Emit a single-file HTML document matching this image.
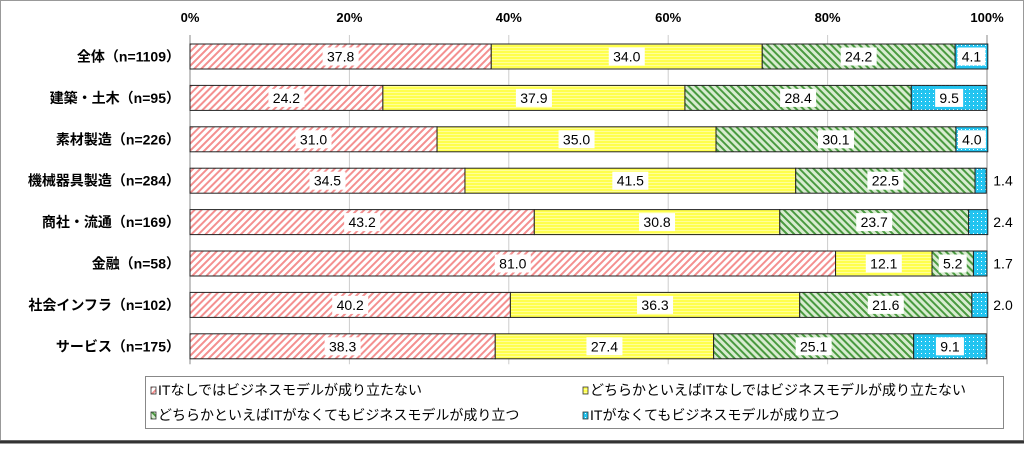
<!DOCTYPE html>
<html><head><meta charset="utf-8"><style>
html,body{margin:0;padding:0;background:#fff;}
svg{display:block;font-family:"Liberation Sans","Noto Sans CJK JP",sans-serif;}
</style></head><body>
<svg id="chart" width="1024" height="449" viewBox="0 0 1024 449">
<defs>
<pattern id="pRed" width="5" height="5" patternUnits="userSpaceOnUse" patternTransform="rotate(45)"><rect width="5" height="5" fill="#fff"/><rect width="2" height="5" fill="#f49090"/></pattern>
<pattern id="pYel" width="4" height="3" patternUnits="userSpaceOnUse"><rect width="4" height="3" fill="#ffff4d"/><rect width="4" height="1" y="2" fill="#ffff99"/></pattern>
<pattern id="pGrn" width="5" height="5" patternUnits="userSpaceOnUse" patternTransform="rotate(-45)"><rect width="5" height="5" fill="#d8ecd0"/><rect width="2" height="5" fill="#4a9a40"/></pattern>
<pattern id="pCyn" width="4" height="4" patternUnits="userSpaceOnUse"><rect width="4" height="4" fill="#22c4f0"/><rect x="1" y="1" width="1" height="1" fill="#fff"/></pattern>
</defs>
<rect x="0.5" y="0.5" width="1023" height="440" fill="#fff" stroke="#999"/>
<line x1="0" y1="442" x2="1024" y2="442" stroke="#333" stroke-width="3"/>
<g id="grid"></g><g id="bars"></g><g id="labels"></g>
<g>
<rect x="145.5" y="376.5" width="858" height="52" fill="#fff" stroke="#888"/>
<g><rect x="151" y="387" width="5" height="7" fill="url(#pRed)" stroke="#333" stroke-width="0.8"/><text x="158" y="395" font-size="14">ITなしではビジネスモデルが成り立たない</text></g>
<g><rect x="583" y="387" width="5" height="7" fill="url(#pYel)" stroke="#333" stroke-width="0.8"/><text x="590" y="395" font-size="14">どちらかといえばITなしではビジネスモデルが成り立たない</text></g>
<g><rect x="151" y="412" width="5" height="7" fill="url(#pGrn)" stroke="#333" stroke-width="0.8"/><text x="158" y="420" font-size="14">どちらかといえばITがなくてもビジネスモデルが成り立つ</text></g>
<g><rect x="583" y="412" width="5" height="7" fill="url(#pCyn)" stroke="#333" stroke-width="0.8"/><text x="590" y="420" font-size="14">ITがなくてもビジネスモデルが成り立つ</text></g>
</g>
</svg>
<script>
const categories=["全体（n=1109）","建築・土木（n=95）","素材製造（n=226）","機械器具製造（n=284）","商社・流通（n=169）","金融（n=58）","社会インフラ（n=102）","サービス（n=175）"];
const seriesA=[37.8,24.2,31.0,34.5,43.2,81.0,40.2,38.3];
const seriesB=[34.0,37.9,35.0,41.5,30.8,12.1,36.3,27.4];
const seriesC=[24.2,28.4,30.1,22.5,23.7,5.2,21.6,25.1];
const seriesD=[4.1,9.5,4.0,1.4,2.4,1.7,2.0,9.1];
const ticks=[0,20,40,60,80,100];
const NS="http://www.w3.org/2000/svg";
const X0=190,X1=987,TOP=35,ROW=41.4,BH=25;
const x=v=>X0+(X1-X0)*v/100;
const rowY=i=>TOP+9+i*ROW;
function mk(t,a,p){const e=document.createElementNS(NS,t);for(const k in a)e.setAttribute(k,a[k]);p.appendChild(e);return e;}
const grid=document.getElementById('grid'),bars=document.getElementById('bars'),labels=document.getElementById('labels');
const BOT=TOP+ROW*categories.length-2;
ticks.forEach(t=>{
 const l=mk('line',{x1:x(t),y1:TOP,x2:x(t),y2:BOT,stroke:t===0||t===100?'#888':'#ccc'},grid);
 
 
 const tx=mk('text',{x:x(t),y:22,'font-size':13,'font-weight':'bold','text-anchor':'middle'},grid);
 tx.textContent=t+'%';
 
 
});
const series=[seriesA,seriesB,seriesC,seriesD],fills=['url(#pRed)','url(#pYel)','url(#pGrn)','url(#pCyn)'];
categories.forEach((c,i)=>{
 const y=rowY(i);
 const ct=mk('text',{x:180,y:y+BH/2+5,'font-size':14,'font-weight':'bold','text-anchor':'end',textLength:0},labels);
 ct.removeAttribute('textLength');
 ct.textContent=c;
 
 
 let cum=0;
 series.forEach((s,k)=>{
  const v=s[i],x0=x(cum),w=x(cum+v)-x0;
  const r=mk('rect',{x:x0,y:y,width:w,height:BH,fill:fills[k],stroke:'#222','stroke-width':1},bars);
  
  
  const txt=v.toFixed(1);
  const outside=(k===3&&v<3);
  const cx=outside?x(100)+16:x0+w/2;
  const tw=txt.length*8+4;
  if(!outside){const bg=mk('rect',{x:cx-tw/2,y:y+BH/2-9,width:tw,height:18,fill:'#fff'},labels);
   
   }
  const t=mk('text',{x:cx,y:y+BH/2+5,'font-size':14,'text-anchor':'middle'},labels);
  t.textContent=txt;
  
  
  cum+=v;
 });
});
</script>
</body></html>
